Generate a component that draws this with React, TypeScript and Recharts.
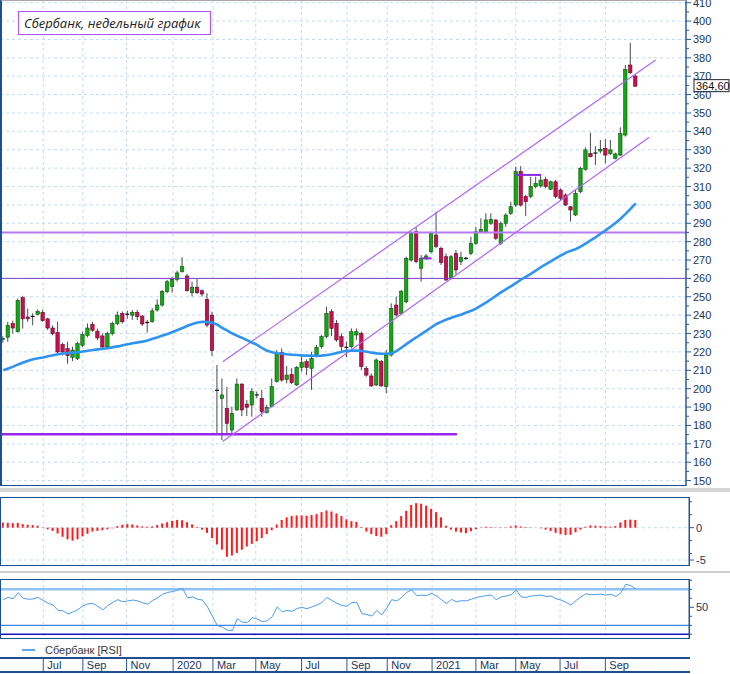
import React from 'react'
import {
  ComposedChart,
  Bar,
  Line,
  XAxis,
  YAxis,
  CartesianGrid,
  ReferenceLine,
} from 'recharts'

// weekly candles, May 2019 .. Oct 2021
const OPEN = [
  226.8, 228, 235.5, 231, 249.5, 239, 239, 240.5, 241.5, 238, 233, 230.5, 224, 221.8, 217, 216.5,
  223.6, 229, 235, 231.3, 228.7, 222.7, 230, 235.5, 241, 240.3, 240, 241.5, 239.5, 236.2, 236.5, 242.8,
  245.5, 252.8, 255.5, 259.5, 263.7, 261.3, 252.2, 255.2, 253.3, 248.6, 240, 199.5, 194.75, 189.3, 177.5, 188.4,
  202.5, 191.6, 191.1, 196.4, 194.75, 187, 190.2, 203.8, 219.6, 205, 207.8, 202, 211.6, 214.7, 211, 218.3,
  222.9, 228.3, 241.9, 235.6, 228.3, 222.3, 222.9, 229.2, 230, 211, 206.9, 202, 214.7, 201.1, 218.3, 245.5,
  241, 247.3, 270, 285.4, 265.5, 270.9, 274.5, 283.6, 276.4, 271.8, 260, 273.6, 269.1, 270.7, 273.6, 279.1,
  285.4, 285.4, 290, 291.8, 279.1, 290, 295.4, 299.9, 318.1, 304.5, 304.5, 309.9, 310.3, 313.9, 308.5, 312.6,
  308.1, 305.4, 299, 294.5, 307.2, 319.3, 328, 328, 329.3, 330.8, 328, 325.3, 327.1, 338, 376.1, 370.1,
]
const HIGH = [
  228.5, 236.4, 237, 249, 250.5, 243.6, 241, 243, 243, 238.5, 234.5, 236.4, 225, 225.5, 222.8, 225.5,
  231, 235.5, 236.4, 232.7, 230, 231, 236.4, 242, 242, 242.5, 242.8, 242.8, 240.1, 237.4, 243.7, 248.6,
  253.7, 259.1, 260.9, 264.2, 271.5, 262.4, 258.2, 260, 254, 251.9, 241.9, 212.9, 205.6, 201, 190.2, 205.6,
  202.9, 193.8, 200.2, 198.4, 199.3, 191.1, 205.6, 221, 221.9, 212.3, 211.1, 212.3, 218.3, 216, 220.1, 223.8,
  229.2, 244.6, 243.2, 237.4, 230.1, 225.6, 232.8, 232.8, 231, 212.3, 208.3, 216.5, 215.6, 221, 246.4, 250.1,
  253.7, 271.8, 285.4, 287.8, 272.7, 273.3, 285.4, 296.3, 277.3, 273.6, 272.7, 275.5, 274.5, 271.8, 282.7, 288.1,
  292.7, 295.4, 295.4, 292.1, 290.9, 295.4, 301.7, 320.8, 321.1, 305.4, 315.3, 315.3, 316.2, 315.3, 313.2, 313.5,
  309, 306.3, 299.4, 308.1, 320.8, 331.3, 339.3, 332, 335.3, 335.7, 335.3, 328.4, 342.2, 376.1, 388.2, 370.7,
]
const LOW = [
  225, 225.5, 230, 230.5, 232.7, 236.4, 234.5, 240, 236.4, 232, 229, 219, 218, 213.6, 215, 215.6,
  222.7, 228, 230.9, 226.4, 221.8, 221.8, 229, 234.5, 235.5, 238, 237.4, 237.4, 234.1, 230.5, 235.9, 241.9,
  244.6, 251.9, 252.2, 258.2, 263.1, 252.8, 250.1, 251.5, 250.1, 233.4, 217.8, 174.8, 172, 174.8, 175.7, 188,
  185.1, 185.1, 184.8, 194.75, 184.8, 186.5, 189.9, 203.3, 203.8, 202.9, 202.5, 201.5, 209.3, 207.4, 199.3, 217,
  221.9, 227.4, 228.6, 225.6, 220.1, 217.1, 221.9, 226.5, 210.2, 206.5, 201, 201.5, 201.1, 197.5, 217.4, 239.2,
  240.1, 246.4, 269.1, 268.2, 258.2, 270, 273.6, 276.4, 267.3, 258.8, 259.5, 261.9, 267.3, 270, 272.7, 278.2,
  284.9, 284.5, 289.1, 280.9, 278.2, 288.1, 294.5, 299, 299, 293.9, 303.6, 309, 309.5, 309, 308.1, 303.6,
  302.6, 299.4, 290.9, 293.9, 306.3, 318.6, 325.9, 321.7, 328, 322.6, 327.1, 324.8, 326.6, 337.1, 371.2, 364.2,
]
const CLOSE = [
  227.3, 234.5, 233, 248, 238, 238, 239.3, 242, 237, 233, 230, 220, 220, 218, 221, 224.5,
  229.5, 233, 231.8, 227.6, 222.7, 230, 235.5, 240, 236.4, 240.5, 241.4, 239.2, 235.2, 236, 242.3, 245.5,
  252.8, 258.2, 259.5, 263, 266.4, 253.3, 255.2, 252.2, 251.5, 234.6, 220.7, 199.1, 196.6, 181.1, 186.6, 202.5,
  188.4, 189.9, 198.4, 196.6, 187.5, 189.9, 201.1, 219.2, 204.7, 207.4, 203.3, 211.6, 214.2, 211.6, 216.5, 222.5,
  228.3, 241, 232.8, 226.5, 222.9, 222.5, 231, 231, 212, 207.4, 201.5, 215.6, 201.5, 218.3, 243.7, 240.1,
  252.8, 270.9, 284.5, 269.1, 270.9, 272.2, 284.5, 277.3, 268.6, 259.1, 271.8, 264.6, 271.5, 270.9, 279.1, 285.4,
  286.7, 291.8, 292.1, 281.8, 290, 294.5, 299, 318.1, 299.9, 301.7, 309.9, 311.7, 313.5, 309.9, 312.6, 304.5,
  303.6, 299.9, 297.2, 306.3, 319.9, 329.9, 326.2, 328.2, 330.2, 327.1, 329.9, 327.7, 338.9, 373.7, 371.9, 364.6,
]
// blue moving average
const MA = [
  210, 211, 212, 213.2, 214.2, 215.2, 216, 216.6, 217, 217.6, 218.2, 218.7, 219.1, 219.4, 219.6, 219.8,
  220.2, 220.6, 221, 221.4, 221.7, 222, 222.6, 223, 223.6, 224.2, 224.7, 225.2, 225.6, 226.2, 227.2, 228,
  228.9, 229.8, 230.8, 231.9, 233, 234.2, 235.2, 236, 236.4, 236.2, 235.8, 234.8, 233, 231.6, 230, 228.7,
  227.6, 226.3, 225, 223.8, 222, 220.6, 219.8, 219.3, 219, 218.7, 218.5, 218.3, 218.1, 218, 217.9, 217.9,
  218, 218.3, 218.7, 219.4, 220.1, 220.6, 220.8, 220.7, 220.5, 220.1, 219.6, 219.2, 219, 219, 219.2, 220.6,
  222.4, 224.4, 226.3, 228, 229.8, 231.6, 233.4, 235.2, 236.5, 237.6, 238.6, 239.5, 240.4, 241.4, 242.4, 243.7,
  245.3, 247, 248.8, 250.6, 252.5, 254.2, 255.8, 257.6, 259.4, 261, 262.6, 264.4, 266.2, 267.8, 269.4, 271,
  272.5, 274, 275.1, 276, 277.4, 279, 280.8, 282.5, 284.4, 286.3, 288.2, 290.3, 292.6, 295.2, 298, 300.8,
]
// oscillator histogram (middle panel)
const HIST = [
  0.8, 0.75, 0.7, 0.75, 0.55, 0.45, 0.4, 0.3, 0.05, -0.25, -0.5, -0.9, -1.4, -1.8, -2, -1.8,
  -1.35, -0.95, -0.6, -0.5, -0.4, -0.25, -0.1, 0.25, 0.45, 0.55, 0.5, 0.35, 0.2, 0.15, 0.2, 0.4,
  0.65, 0.85, 1.05, 1.2, 1.15, 0.85, 0.5, 0.1, -0.3, -0.8, -1.6, -2.6, -3.4, -4.5, -4.3, -3.9,
  -3.4, -2.9, -2.5, -2.1, -1.6, -1, -0.4, 0.5, 1.2, 1.6, 1.8, 1.9, 1.9, 1.85, 1.95, 2.1,
  2.4, 2.65, 2.5, 2.2, 1.8, 1.3, 1, 0.9, 0.1, -0.6, -1, -1.3, -1.4, -1, 0.4, 1,
  1.8, 2.6, 3.5, 3.8, 3.7, 3.4, 2.9, 2.4, 1.6, 0.3, -0.3, -0.6, -0.75, -0.85, -0.55, -0.25,
  -0.05, 0.15, 0.1, 0.05, -0.05, 0.05, 0.2, 0.35, 0.2, 0.1, 0.05, 0, -0.1, -0.3, -0.5, -0.8,
  -1, -1.15, -1.1, -0.7, -0.3, 0.15, 0.35, 0.3, 0.25, 0.2, 0.15, 0.25, 0.8, 1.2, 1.25, 1.2,
]
const RSI = [
  58.5, 61, 59.5, 66.2, 60, 59, 59.2, 61, 57.5, 54.5, 52.5, 46.5, 46, 42.5, 44.8, 47.5,
  51.5, 53.8, 54.2, 51, 47.2, 52, 55.3, 58.5, 56.2, 57, 58, 57.2, 55, 53.5, 57.5, 60.5,
  64.5, 66.5, 67.5, 69, 71, 60.5, 61.5, 59, 58, 50.5, 40, 29.5, 28, 24.5, 24, 37.5,
  33.5, 33, 38.5, 37, 34, 35, 39.5, 50.5, 45, 46.5, 45.5, 48.8, 49.8, 48.5, 50.5, 52.5,
  55.5, 61, 57.5, 54.5, 52, 51, 55.3, 55.5, 43, 42, 40.3, 46.5, 41.5, 49, 58.5, 57,
  61, 66.5, 69.5, 63, 63.5, 63, 65.5, 62.5, 58.5, 54, 58.8, 56, 57.3, 57.2, 59, 61,
  61.8, 63, 63.6, 58.5, 61.5, 62.5, 64, 69.2, 61.5, 61, 62.5, 63, 63.6, 62, 62.5, 59.5,
  58, 55.5, 52.5, 57.5, 61.5, 65, 64, 64.2, 64.7, 63.5, 64.5, 62, 66, 75.5, 74, 70.5,
]

// time axis (candle index of each two-month boundary)
const MONTH_TICKS = [8.03, 15.98, 24.76, 34.1, 42.1, 50.7, 59.9, 69.0, 77.1, 86.1, 94.9, 102.9, 111.8, 120.9]
const MONTH_LABELS = ['Jul', 'Sep', 'Nov', '2020', 'Mar', 'May', 'Jul', 'Sep', 'Nov', '2021', 'Mar', 'May', 'Jul', 'Sep']

// drawn annotations (index, price)
const LEVELS = [285, 260]
const SUPPORT = [-0.66, 91.1, 175.2]
const CHANNEL_UPPER = [44.06, 214.7, 131, 378.8]
const CHANNEL_LOWER = [44.06, 171.2, 129.7, 336.8]
const MARKS = [
  [84, 86, 270.9],
  [102.9, 108, 316.3],
]

const RSI_LEVELS = [70, 30, 20]

const PRICE_TICKS = Array.from({ length: 53 }, (_, k) => 150 + 5 * k)
const PRICE_GRID = Array.from({ length: 27 }, (_, k) => 150 + 10 * k)

const data = OPEN.map((o, i) => ({
  i,
  o,
  h: HIGH[i],
  l: LOW[i],
  c: CLOSE[i],
  range: [LOW[i], HIGH[i]],
  ma: MA[i],
  hist: HIST[i],
  rsi: RSI[i],
}))

const STEP = 4.98
const X_MIN = -0.66
const xDomain = (w: number) => [X_MIN, X_MIN + w / STEP]

const FONT = '"Liberation Sans", Arial, sans-serif'
const AXIS = '#2a5a94'
const LABEL = '#1c3559'
const GRID = '#c2dcf3'

function Candle(props: any) {
  const { x, y, width, height, payload } = props
  if (!payload || x == null || y == null) return null
  const { o, h, l, c } = payload
  const cx = x + width / 2
  const k = h > l ? height / (h - l) : 0
  const yo = y + (h - o) * k
  const yc = y + (h - c) * k
  const top = Math.min(yo, yc)
  const bh = Math.max(1, Math.abs(yc - yo))
  const doji = Math.abs(c - o) < 0.5
  const up = c > o
  return (
    <g>
      <line x1={cx} x2={cx} y1={y} y2={y + height} stroke="#4a4a4a" strokeWidth={1} />
      {doji ? (
        <line x1={cx - 2} x2={cx + 2} y1={yc} y2={yc} stroke="#111" strokeWidth={1.2} />
      ) : (
        <rect
          x={cx - 1.7}
          y={top}
          width={3.4}
          height={bh}
          fill={up ? '#14a614' : '#c3124f'}
          stroke={up ? '#0a560a' : '#6a0a2b'}
          strokeWidth={0.6}
        />
      )}
    </g>
  )
}

function makeTick(labels: number[], major: number) {
  return function Tick(props: any) {
    const { x, y, payload } = props
    const v = payload.value
    const show = labels.includes(v)
    const big = show || (major > 0 && v % major === 0)
    return (
      <g>
        <line x1={x} x2={x + (big ? 5 : 3)} y1={y} y2={y} stroke={AXIS} strokeWidth={1} />
        {show && (
          <text x={x + 7} y={y + 4} fontSize={11} fontFamily={FONT} fill={LABEL}>
            {v}
          </text>
        )}
      </g>
    )
  }
}

const PriceTick = makeTick(PRICE_GRID, 10)
const HistTick = makeTick([0, -5], 0)
const RsiTick = makeTick([50], 0)

function PriceTag(props: any) {
  const { viewBox } = props
  if (!viewBox) return null
  const x = viewBox.x + viewBox.width + 8
  const y = viewBox.y
  return (
    <g>
      <rect x={x} y={y - 6.5} width={35} height={12} fill="#fff" stroke="#222" strokeWidth={1} />
      <text x={x + 2} y={y + 3.5} fontSize={11} fontFamily={FONT} fill="#111">
        {CLOSE[CLOSE.length - 1].toFixed(2).replace('.', ',')}
      </text>
    </g>
  )
}

function MonthTick(props: any) {
  const { x, y, payload } = props
  const k = MONTH_TICKS.indexOf(payload.value)
  return (
    <g>
      <line x1={x} x2={x} y1={y} y2={y + 14} stroke={AXIS} strokeWidth={1} />
      <text x={x + 4} y={y + 11} fontSize={11} fontFamily={FONT} fill={LABEL}>
        {MONTH_LABELS[k]}
      </text>
    </g>
  )
}

const box = (s: React.CSSProperties): React.CSSProperties => ({
  position: 'absolute',
  boxSizing: 'border-box',
  pointerEvents: 'none',
  ...s,
})

export default function App() {
  const last = CLOSE[CLOSE.length - 1]
  return (
    <div style={{ position: 'relative', width: 730, height: 674, background: '#fff', fontFamily: FONT }}>
      <style>{'body{margin:0}'}</style>

      {/* price panel */}
      <div style={{ position: 'absolute', left: 0, top: 0 }}>
        <ComposedChart width={730} height={486} data={data} margin={{ top: 0, right: 0, bottom: 0, left: 0 }}>
          <CartesianGrid
            stroke={GRID}
            strokeDasharray="3 3"
            horizontalValues={PRICE_GRID}
            verticalValues={MONTH_TICKS}
          />
          <XAxis type="number" dataKey="i" domain={xDomain(686)} hide allowDataOverflow ticks={MONTH_TICKS} />
          <YAxis
            orientation="right"
            width={44}
            domain={[147.05, 411.47]}
            allowDataOverflow
            ticks={PRICE_TICKS}
            interval={0}
            tickSize={0}
            tickMargin={0}
            tickLine={false}
            axisLine={{ stroke: AXIS, strokeWidth: 1.5 }}
            tick={<PriceTick />}
          />
          <ReferenceLine y={LEVELS[0]} stroke="#b57cf2" strokeWidth={2} />
          <ReferenceLine y={LEVELS[1]} stroke="#7f3cc4" strokeWidth={1} />
          <ReferenceLine
            segment={[{ x: SUPPORT[0], y: SUPPORT[2] }, { x: SUPPORT[1], y: SUPPORT[2] }]}
            stroke="#9a25ee"
            strokeWidth={2.5}
            ifOverflow="hidden"
          />
          <ReferenceLine
            segment={[{ x: CHANNEL_UPPER[0], y: CHANNEL_UPPER[1] }, { x: CHANNEL_UPPER[2], y: CHANNEL_UPPER[3] }]}
            stroke="#b065f5"
            strokeWidth={1.2}
            ifOverflow="hidden"
          />
          <ReferenceLine
            segment={[{ x: CHANNEL_LOWER[0], y: CHANNEL_LOWER[1] }, { x: CHANNEL_LOWER[2], y: CHANNEL_LOWER[3] }]}
            stroke="#b065f5"
            strokeWidth={1.2}
            ifOverflow="hidden"
          />
          {MARKS.map((m, k) => (
            <ReferenceLine
              key={'m' + k}
              segment={[{ x: m[0], y: m[2] }, { x: m[1], y: m[2] }]}
              stroke="#8a2be2"
              strokeWidth={2}
              ifOverflow="hidden"
            />
          ))}
          <Bar dataKey="range" barSize={4} shape={<Candle />} isAnimationActive={false} />
          <Line
            type="linear"
            dataKey="ma"
            stroke="#2f93f2"
            strokeWidth={2.6}
            strokeLinecap="butt"
            dot={false}
            activeDot={false}
            isAnimationActive={false}
          />
          <ReferenceLine y={last} stroke="none" ifOverflow="visible" label={<PriceTag />} />
        </ComposedChart>
      </div>
      <div style={box({ left: 0, top: 0, width: 686, height: 486, borderLeft: '2px solid #1f4f8c', borderTop: '1px solid #a8a8a8', borderBottom: '1px solid #1f4f8c' })} />
      <div
        style={box({
          left: 18,
          top: 11,
          width: 193,
          height: 24,
          border: '1px solid #a855f7',
          background: '#fff',
          paddingLeft: 5,
          lineHeight: '22px',
          fontFamily: '"Open Sans", sans-serif',
          fontStyle: 'italic',
          fontSize: 13,
          color: '#222',
          whiteSpace: 'nowrap',
        })}
      >
        Сбербанк, недельный график
      </div>

      <div style={box({ left: 0, top: 488, width: 730, height: 4, background: '#d4d4d4' })} />

      {/* histogram panel */}
      <div style={{ position: 'absolute', left: 0, top: 497 }}>
        <ComposedChart width={730} height={69} data={data} margin={{ top: 0, right: 0, bottom: 0, left: 0 }}>
          <CartesianGrid stroke={GRID} strokeDasharray="3 3" horizontalValues={[0, -5]} verticalValues={MONTH_TICKS} />
          <XAxis type="number" dataKey="i" domain={xDomain(689)} hide allowDataOverflow ticks={MONTH_TICKS} />
          <YAxis
            orientation="right"
            width={41}
            domain={[-5.92, 4.74]}
            allowDataOverflow
            ticks={[-5, -4, -2, 0, 2, 4]}
            interval={0}
            tickSize={0}
            tickMargin={0}
            tickLine={false}
            axisLine={{ stroke: AXIS }}
            tick={<HistTick />}
          />
          <Bar dataKey="hist" fill="#ff1a1a" barSize={2} isAnimationActive={false} />
        </ComposedChart>
      </div>
      <div style={box({ left: 0, top: 497, width: 690, height: 69, border: '1px solid #1f4f8c' })} />

      <div style={box({ left: 0, top: 571, width: 730, height: 2, background: '#cfcfcf' })} />

      {/* RSI panel */}
      <div style={{ position: 'absolute', left: 0, top: 579 }}>
        <ComposedChart width={730} height={59} data={data} margin={{ top: 0, right: 0, bottom: 0, left: 0 }}>
          <CartesianGrid stroke={GRID} strokeDasharray="3 3" horizontal={false} verticalValues={MONTH_TICKS} />
          <XAxis type="number" dataKey="i" domain={xDomain(689)} hide allowDataOverflow ticks={MONTH_TICKS} />
          <YAxis
            orientation="right"
            width={41}
            domain={[15.9, 81.4]}
            allowDataOverflow
            ticks={[20, 30, 40, 50, 60, 70, 80]}
            interval={0}
            tickSize={0}
            tickMargin={0}
            tickLine={false}
            axisLine={{ stroke: AXIS }}
            tick={<RsiTick />}
          />
          <ReferenceLine y={RSI_LEVELS[0]} stroke="#8cc3f4" strokeWidth={2.5} />
          <ReferenceLine y={RSI_LEVELS[1]} stroke="#3d84df" strokeWidth={1.2} />
          <ReferenceLine y={RSI_LEVELS[2]} stroke="#1616c4" strokeWidth={1.6} />
          <Line type="linear" dataKey="rsi" stroke="#4a9cec" strokeWidth={1} dot={false} activeDot={false} isAnimationActive={false} />
        </ComposedChart>
      </div>
      <div style={box({ left: 0, top: 579, width: 690, height: 60, border: '1px solid #1f4f8c' })} />

      {/* legend */}
      <div style={box({ left: 22, top: 643, height: 14, display: 'flex', alignItems: 'center', fontSize: 11, color: '#3a3a3a' })}>
        <span style={{ display: 'inline-block', width: 13, height: 2, background: '#5fa8ee', marginRight: 10 }} />
        <span>Сбербанк [RSI]</span>
      </div>

      {/* time axis */}
      <div style={{ position: 'absolute', left: 0, top: 643 }}>
        <ComposedChart width={730} height={30} data={data} margin={{ top: 0, right: 41, bottom: 0, left: 0 }}>
          <XAxis
            type="number"
            dataKey="i"
            domain={xDomain(689)}
            allowDataOverflow
            height={15}
            ticks={MONTH_TICKS}
            interval={0}
            tickSize={0}
            tickMargin={0}
            axisLine={false}
            tickLine={false}
            tick={<MonthTick />}
          />
          <YAxis hide domain={[0, 1]} />
          <Line dataKey="rsi" stroke="none" dot={false} activeDot={false} isAnimationActive={false} />
        </ComposedChart>
      </div>
      <div style={box({ left: 0, top: 657, width: 690, height: 16, borderTop: '2px solid #1f4f8c', borderBottom: '2px solid #1f4f8c' })} />
    </div>
  )
}
